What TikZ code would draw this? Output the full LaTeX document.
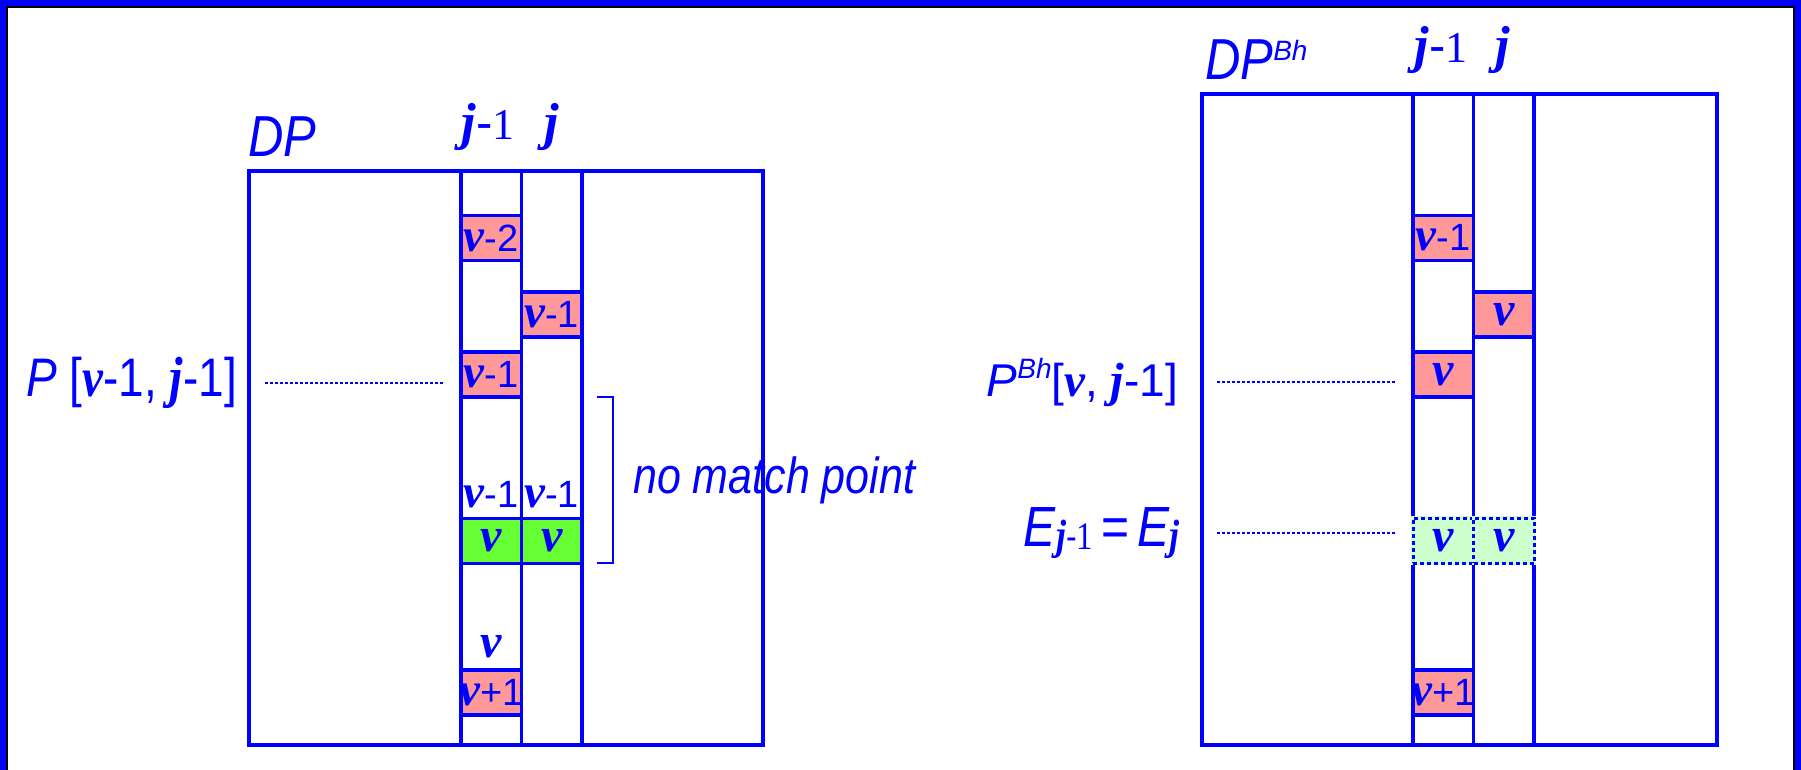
\documentclass[tikz,border=0pt]{standalone}
\usepackage{graphicx}
\usepackage{fontspec}
\setmainfont{Liberation Sans}
\newfontfamily\tms{Liberation Serif}
\usetikzlibrary{positioning}

\definecolor{dpblue}{RGB}{0,0,255}
\definecolor{hitpink}{RGB}{255,153,153}
\definecolor{hitgreen}{RGB}{102,255,51}
\definecolor{palegreen}{RGB}{204,255,204}

\newcommand{\vb}[1][47]{{\tms\bfseries\itshape\fontsize{#1}{#1}\selectfont v}}
\newcommand{\jb}[1][52]{{\tms\bfseries\itshape\fontsize{#1}{#1}\selectfont j}}
\newcommand{\one}[1][44]{{\tms\fontsize{#1}{#1}\selectfont 1}}
\newcommand{\tall}[1]{\scalebox{1}[1.18]{#1}}
\newcommand{\cellfont}{\fontsize{38}{40}\selectfont}
\newcommand{\hfont}{\fontsize{49}{52}\selectfont}
\newcommand{\lfont}{\fontsize{46}{50}\selectfont}
\newcommand{\supfont}{\fontsize{28}{28}\selectfont\itshape}

\begin{document}
\begin{tikzpicture}[x=1pt,y=-1pt,
	grid/.style={draw=dpblue,line width=3.5pt},
	cell/.style={draw=dpblue,line width=3.5pt,minimum width=60.5pt,minimum height=45pt,inner sep=0pt,text=dpblue,font=\cellfont},
	hit/.style={cell,fill=hitpink},
	match/.style={cell,fill=hitgreen},
	ghost/.style={cell,fill=palegreen,line width=3pt,dash pattern=on 4pt off 3pt,
		preaction={draw=palegreen,solid,line width=4pt}},
	lbl/.style={text=dpblue,inner sep=0pt},
	leader/.style={draw=dpblue,line width=2pt,dash pattern=on 2.5pt off 2.5pt},
	brk/.style={draw=dpblue,line width=2pt}]
	\useasboundingbox (0,0) rectangle (1801,770);
	\fill[white] (0,0) rectangle (1801,770);
	\draw[dpblue,line width=6pt] (3,780) -- (3,3) -- (1798,3) -- (1798,780);
	\draw[black,line width=2pt] (7,780) -- (7,7) -- (1794,7) -- (1794,780);

	% DP
	\draw[grid] (249,171) rectangle (763,745);
	\draw[grid] (461,171) rectangle (521.5,745);
	\draw[grid] (521.5,171) rectangle (582,745);
	\node[lbl,anchor=base west,font=\hfont\itshape] (dp) at (248,157) {\tall{DP}};
	\node[lbl,anchor=base,font=\hfont] (hjm) at (488,140) {\jb-\one};
	\node[lbl,anchor=base,font=\hfont] (hj) at (552,140) {\jb};
	\node[hit] (a2) at (491.25,238) {\vb-2};
	\node[hit] (b1) at (551.75,314.5) {\vb-1};
	\node[hit] (a1) at (491.25,374.5) {\vb-1};
	\node[match] (a0) at (491.25,541) {\vb[48]};
	\node[match] (b0) at (551.75,541) {\vb[48]};
	\node[hit] (a3) at (491.25,692.5) {\makebox[0pt]{\vb+1}};
	\node[lbl,font=\cellfont,above=8.5pt of a0] (ta) {\vb-1};
	\node[lbl,font=\cellfont,above=8.5pt of b0] (tb) {\vb-1};
	\node[lbl,font=\cellfont,above=10pt of a3] (tc) {\vb[48]};
	\node[lbl,anchor=east,font=\lfont] (pl) at (237,383) {\tall{\textit{P} [\vb-1, \jb[48]-1]}};
	\draw[leader] ([xshift=28pt]pl.east) -- ([xshift=-15pt]pl.east -| a1.west);
	\draw[brk] (597,397) -- (613,397) -- (613,563) -- (597,563);
	\node[lbl,anchor=base west,font=\fontsize{43}{46}\selectfont\itshape] (nm) at (633,493) {\tall{no match point}};

	% DP^Bh
	\draw[grid] (1202,94) rectangle (1717,745);
	\draw[grid] (1413,94) rectangle (1473.5,745);
	\draw[grid] (1473.5,94) rectangle (1534,745);
	\node[lbl,anchor=base west,font=\hfont\itshape] (dpb) at (1205,80) {\tall{DP}\raisebox{19pt}{\supfont Bh}};
	\node[lbl,anchor=base,font=\hfont] (hjmb) at (1441,63) {\jb-\one};
	\node[lbl,anchor=base,font=\hfont] (hjb) at (1503,63) {\jb};
	\node[hit] (c2) at (1443.25,238) {\vb-1};
	\node[hit] (d1) at (1503.75,314.5) {\vb[48]};
	\node[hit] (c1) at (1443.25,374.5) {\vb[48]};
	\node[ghost] (c0) at (1443.25,540.5) {\vb[48]};
	\node[ghost] (d0) at (1503.75,540.5) {\vb[48]};
	\node[hit] (c3) at (1443.25,692.5) {\makebox[0pt]{\vb+1}};
	\node[lbl,anchor=east,font=\lfont] (pb) at (1178,382) {\textit{P}\raisebox{18pt}{\supfont Bh}[\vb, \jb[48]-1]};
	\node[lbl,anchor=east,font=\fontsize{48}{50}\selectfont] (el) at (1180,533) {\tall{\textit{E}\raisebox{-3pt}{\jb[36]{\fontsize{32}{32}\selectfont -}\one[33]}\,=\,\textit{E}\raisebox{-3pt}{\jb[36]}}};
	\draw[leader] ([xshift=39pt]pb.east) -- ([xshift=-15pt]pb.east -| c1.west);
	\draw[leader] ([xshift=37pt]el.east) -- ([xshift=-15pt]el.east -| c0.west);
\end{tikzpicture}
\end{document}
